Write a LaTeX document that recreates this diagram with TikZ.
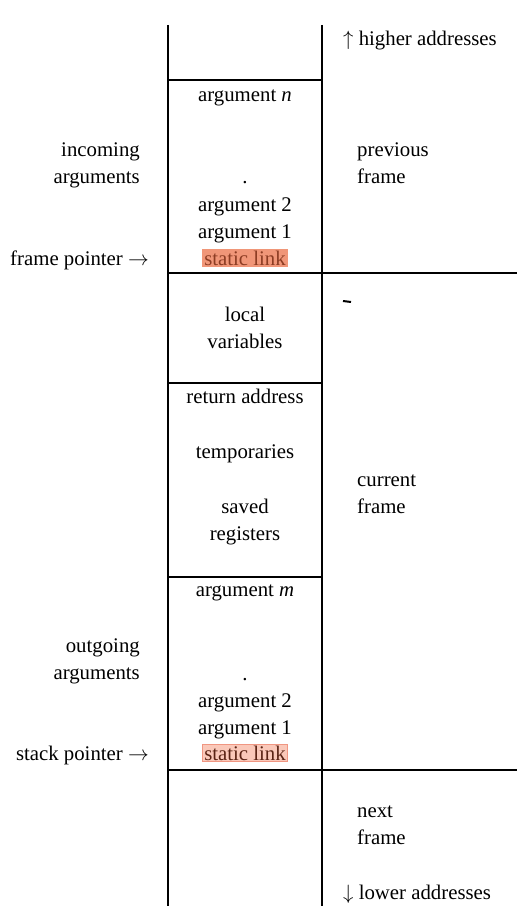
\documentclass[tikz,border=0pt]{standalone}
\usepackage{fontspec}
\setmainfont{Liberation Serif}
\definecolor{hlfill}{RGB}{240,150,120}
\definecolor{hltext}{RGB}{140,60,35}
\definecolor{hlfillb}{RGB}{250,200,185}
\definecolor{hldraw}{RGB}{240,150,130}
\definecolor{hltextb}{RGB}{90,35,20}
\begin{document}
\begin{tikzpicture}[x=1pt,y=-1pt,
  txt/.style={anchor=base, inner sep=0pt, font=\fontsize{20.8}{27}\selectfont},
  rtxt/.style={txt, anchor=base east},
  ltxt/.style={txt, anchor=base west},
  hlA/.style={txt, fill=hlfill, text=hltext, inner xsep=2pt, inner ysep=1.5pt, text depth=0pt},
  hlB/.style={txt, fill=hlfillb, draw=hldraw, line width=0.6pt, text=hltextb, inner xsep=2pt, inner ysep=1.5pt, text depth=0pt},
  rule/.style={line width=1.2pt}]
\useasboundingbox (0,0) rectangle (523,915);

% stack column edges and frame boundaries
\coordinate (lt) at (168,25);  \coordinate (lb) at (168,906);
\coordinate (rt) at (322,25);  \coordinate (rb) at (322,906);
\draw[rule] (lt) -- (lb);
\draw[rule] (rt) -- (rb);
\draw[rule] (168,80) -- (322,80);
\draw[rule] (168,273) -- (517,273);
\draw[rule] (168,383) -- (322,383);
\draw[rule] (168,577) -- (322,577);
\draw[rule] (168,770) -- (517,770);
\draw[line width=2pt] (343,301) -- (351,302);

% previous frame
\node[ltxt] (hi) at (343,46) {$\uparrow$ higher addresses};
\node[txt] (argn) at (245,102) {argument \textit{n}};
\node[rtxt] (inc1) at (140,156) {incoming};
\node[rtxt] (inc2) at (140,183) {arguments};
\node[ltxt] (prev1) at (357,156) {previous};
\node[ltxt] (prev2) at (357,183) {frame};
\node[txt] (dotA) at (245,183) {.};
\node[txt] (argAb) at (245,211) {argument 2};
\node[txt] (argAa) at (245,238) {argument 1};
\node[hlA] (slA) at (245,265) {static link};
\node[rtxt] (fp) at (149,265) {frame pointer $\rightarrow$};

% current frame
\node[txt] (loc1) at (245,321) {local};
\node[txt] (loc2) at (245,348) {variables};
\node[txt] (ret) at (245,403) {return address};
\node[txt] (tmp) at (245,458) {temporaries};
\node[txt] (sav1) at (245,513) {saved};
\node[txt] (sav2) at (245,540) {registers};
\node[ltxt] (cur1) at (357,486) {current};
\node[ltxt] (cur2) at (357,513) {frame};
\node[txt] (argm) at (245,596) {argument \textit{m}};
\node[rtxt] (out1) at (140,652) {outgoing};
\node[rtxt] (out2) at (140,679) {arguments};
\node[txt] (dotB) at (245,680) {.};
\node[txt] (argBb) at (245,707) {argument 2};
\node[txt] (argBa) at (245,734) {argument 1};
\node[hlB] (slB) at (245,760) {static link};
\node[rtxt] (sp) at (149,760) {stack pointer $\rightarrow$};

% next frame
\node[ltxt] (nx1) at (357,817) {next};
\node[ltxt] (nx2) at (357,844) {frame};
\node[ltxt] (lo) at (343,899) {$\downarrow$ lower addresses};
\end{tikzpicture}
\end{document}
